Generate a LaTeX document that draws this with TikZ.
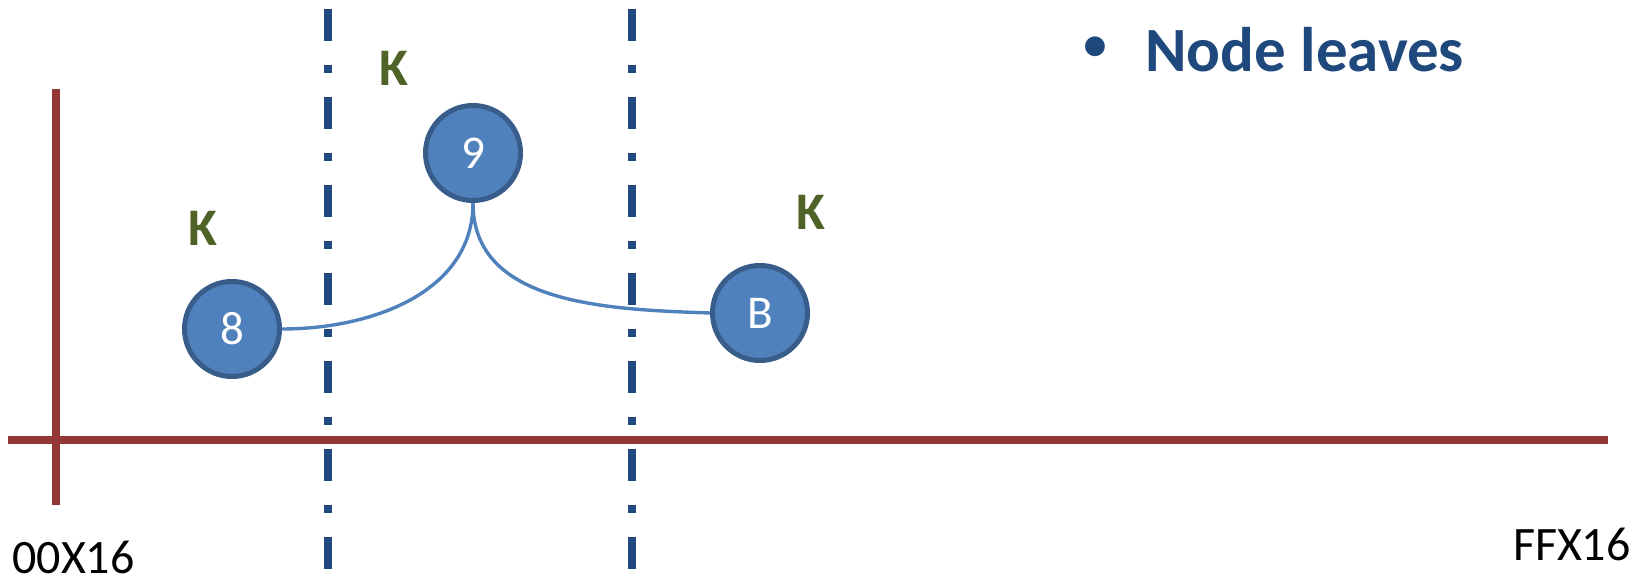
\documentclass[tikz,border=0pt]{standalone}
\usepackage{fontspec}
\setmainfont{Carlito}
\usepackage{tikz}
\usetikzlibrary{positioning}
\definecolor{ringBlue}{RGB}{79,129,189}
\definecolor{ringEdge}{RGB}{56,93,138}
\definecolor{zoneBlue}{RGB}{31,73,125}
\definecolor{axisRed}{RGB}{149,55,53}
\definecolor{keyGreen}{RGB}{79,98,40}

\begin{document}
\begin{tikzpicture}[
  x=0.5pt, y=-0.5pt,
  peer/.style={circle, draw=ringEdge, line width=2.5pt, fill=ringBlue, minimum size=47.5pt, inner sep=0pt, text=white, font=\fontsize{23.5}{26}\selectfont},
  axis/.style={draw=axisRed, line width=4pt},
  zone/.style={draw=zoneBlue, line width=4pt, dash pattern=on 16pt off 12pt on 4pt off 12pt},
  link/.style={draw=ringBlue, line width=1.7pt},
  keylbl/.style={text=keyGreen, inner sep=0pt, font=\fontsize{26.4}{30}\selectfont\bfseries},
  endlbl/.style={inner sep=0pt, font=\fontsize{24}{28}\selectfont}
]
\useasboundingbox (0,0) rectangle (1641,581);

% axes
\draw[axis] (8,440) -- (1608,440);
\draw[axis] (56,89) -- (56,505);

% key space borders
\draw[zone] (328,9) -- (328,581);
\draw[zone] (632,9) -- (632,581);

% peers
\node[peer] (n8) at (232,329) {8};
\node[peer] (n9) at (473,153) {9};
\node[peer] (nB) at (760,313) {B};

\draw[link] (n8.east) to[out=0, in=-90] (n9.south);
\draw[link] (n9.south) to[out=-90, in=178] (nB.west);

% keys
\node[keylbl] (k8) at (203,228) {K};
\node[keylbl] (k9) at (394,68)  {K};
\node[keylbl] (kB) at (811,212) {K};

% id space ends
\node[endlbl, anchor=base west] (lo) at (12,574)   {00X16};
\node[endlbl, anchor=base east] (hi) at (1631,560) {FFX16};

% bullet
\node[text=zoneBlue, inner sep=0pt, font=\fontsize{28}{30}\selectfont] (dot) at (1095,50) {•};
\node[text=zoneBlue, inner sep=0pt, anchor=base west, font=\fontsize{31.5}{34}\selectfont\bfseries] (leave) at (1145,72) {Node leaves};
\end{tikzpicture}
\end{document}
